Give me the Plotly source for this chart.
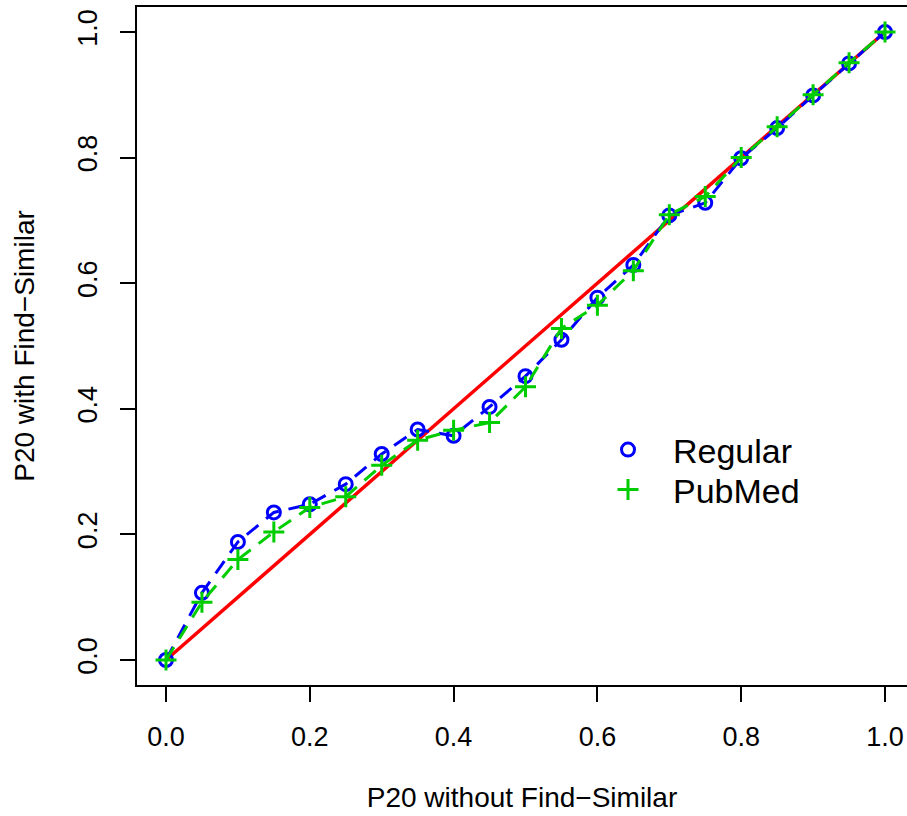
import plotly.graph_objects as go

x_vals = [0.0, 0.05, 0.10, 0.15, 0.20, 0.25, 0.30, 0.35, 0.40, 0.45, 0.50,
          0.55, 0.60, 0.65, 0.70, 0.75, 0.80, 0.85, 0.90, 0.95, 1.0]
regular = [0.0, 0.107, 0.188, 0.235, 0.248, 0.280, 0.328, 0.367, 0.357, 0.403, 0.452,
           0.510, 0.577, 0.629, 0.708, 0.728, 0.799, 0.847, 0.899, 0.950, 1.0]
pubmed = [0.0, 0.092, 0.160, 0.204, 0.243, 0.260, 0.310, 0.350, 0.366, 0.378, 0.435,
          0.528, 0.565, 0.620, 0.709, 0.738, 0.800, 0.849, 0.900, 0.951, 1.0]
diag_x = [0.0, 1.0]
diag_y = [0.0, 1.0]
tick_vals = [0.0, 0.2, 0.4, 0.6, 0.8, 1.0]
tick_text = ["0.0", "0.2", "0.4", "0.6", "0.8", "1.0"]

FONT = "Liberation Sans, Arial, Helvetica, sans-serif"
BLUE = "#0000FF"
GREEN = "#00CD00"
RED = "#FF0000"

circle_marker = dict(symbol="circle-open", size=13, color=BLUE,
                     line=dict(width=3, color=BLUE))
plus_marker = dict(symbol="cross-thin-open", size=15, color=GREEN,
                   line=dict(width=3, color=GREEN))

fig = go.Figure()
fig.add_trace(go.Scatter(x=diag_x, y=diag_y, mode="lines",
                         line=dict(color=RED, width=3.5), showlegend=False,
                         hoverinfo="skip"))
fig.add_trace(go.Scatter(x=x_vals, y=regular, mode="lines+markers",
                         line=dict(color=BLUE, width=3, dash="15px,10px"),
                         marker=circle_marker, showlegend=False))
fig.add_trace(go.Scatter(x=x_vals, y=pubmed, mode="lines+markers",
                         line=dict(color=GREEN, width=3, dash="15px,10px"),
                         marker=plus_marker, showlegend=False))
# legend entries (markers only, as in the original)
fig.add_trace(go.Scatter(x=[None], y=[None], mode="markers", name="Regular",
                         marker=circle_marker, legend="legend"))
fig.add_trace(go.Scatter(x=[None], y=[None], mode="markers", name="PubMed",
                         marker=plus_marker, legend="legend2"))

W, H = 907, 816
L, R, T, B = 137, 0, 7, 131
PW, PH = W - L - R, H - T - B


def leg(px_x, px_y):
    return dict(x=(px_x - L) / PW, y=1 - (px_y - T) / PH,
                xanchor="left", yanchor="middle",
                font=dict(size=34, family=FONT, color="black"),
                bgcolor="rgba(0,0,0,0)", borderwidth=0,
                itemsizing="trace", itemwidth=80)


fig.update_layout(
    width=W, height=H,
    margin=dict(l=L, r=R, t=T, b=B, pad=0),
    paper_bgcolor="white", plot_bgcolor="white",
    font=dict(family=FONT, color="black", size=27),
    showlegend=True,
    legend=leg(583, 450),
    legend2=leg(583, 490),
    xaxis=dict(range=[-29 / 719, 741 / 719], tickvals=tick_vals, ticktext=tick_text,
               ticks="outside", ticklen=15, tickwidth=2, tickcolor="black",
               showline=True, linecolor="black", linewidth=2, mirror=True,
               showgrid=False, zeroline=False,
               tickfont=dict(size=27, family=FONT), ticklabelstandoff=12,
               title=dict(text="P20 without Find\u2212Similar", font=dict(size=28, family=FONT),
                          standoff=36),
               automargin=False),
    yaxis=dict(range=[-25 / 628, 653 / 628], tickvals=tick_vals, ticktext=tick_text,
               ticks="outside", ticklen=15, tickwidth=2, tickcolor="black",
               showline=True, linecolor="black", linewidth=2, mirror=False,
               showgrid=False, zeroline=False, tickangle=-90,
               tickfont=dict(size=27, family=FONT), ticklabelstandoff=12,
               title=dict(text="P20 with Find\u2212Similar", font=dict(size=28, family=FONT),
                          standoff=30),
               automargin=False),
)

fig.write_html("out.html")
